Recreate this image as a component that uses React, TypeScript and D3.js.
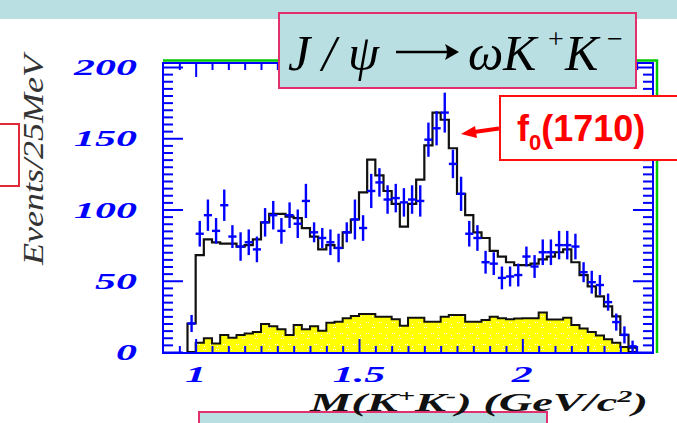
import React, { useEffect, useRef } from 'react';
import * as d3 from 'd3';

// M(K+K-) bin centres, GeV/c^2 (25 MeV bins)
const binWidth = 0.025;
const binCenters = [
  0.9875, 1.0125, 1.0375, 1.0625, 1.0875, 1.1125, 1.1375, 1.1625, 1.1875, 1.2125,
  1.2375, 1.2625, 1.2875, 1.3125, 1.3375, 1.3625, 1.3875, 1.4125, 1.4375, 1.4625,
  1.4875, 1.5125, 1.5375, 1.5625, 1.5875, 1.6125, 1.6375, 1.6625, 1.6875, 1.7125,
  1.7375, 1.7625, 1.7875, 1.8125, 1.8375, 1.8625, 1.8875, 1.9125, 1.9375, 1.9625,
  1.9875, 2.0125, 2.0375, 2.0625, 2.0875, 2.1125, 2.1375, 2.1625, 2.1875, 2.2125,
  2.2375, 2.2625, 2.2875, 2.3125, 2.3375,
];

// data points (events / 25 MeV) and their errors
const dataCounts = [
  20, 83, 96, 85, 103, 81, 74, 77, 72, 91,
  96, 85, 96, 90, 106, 84, 80, 77, 73, 84,
  93, 87, 113, 119, 107, 108, 105, 107, 106, 149,
  157, 168, 132, 111, 83, 80, 63, 62, 52, 53,
  54, 67, 60, 70, 70, 75, 75, 74, 56, 49,
  47, 35, 21, 12, 4,
];
const dataErrors = [
  6, 9, 11, 9, 11, 8, 10, 9, 9, 10,
  10, 9, 9, 10, 12, 7, 7, 9, 10, 7,
  14, 9, 12, 10, 10, 10, 10, 10, 11, 12,
  12, 14, 10, 12, 9, 9, 8, 8, 8, 7,
  8, 7, 8, 9, 9, 10, 10, 9, 7, 8,
  7, 6, 6, 6, 4,
];

// fit result (black histogram)
const fitCounts = [
  20, 68, 79, 77, 76, 76, 74, 75, 79, 91,
  97, 97, 95, 94, 87, 81, 72, 75, 73, 84,
  93, 112, 135, 124, 113, 104, 88, 104, 121, 145,
  168, 163, 143, 111, 96, 84, 80, 71, 67, 63,
  61, 61, 62, 65, 67, 70, 72, 63, 54, 46,
  39, 32, 25, 12, 3,
];

// background (yellow histogram)
const bkgCounts = [
  0, 6.5, 9.6, 6, 12, 10, 12, 13, 14, 19.6,
  18, 16, 12, 19, 16, 18, 15, 20.6, 21.3, 23.6,
  25.3, 26.7, 26.7, 24.8, 24.8, 22.9, 18.5, 24, 24, 21.3,
  21.3, 24.8, 26, 26, 21.3, 21.3, 22.5, 24.8, 23.6, 23,
  23.5, 23.6, 23.6, 27.8, 22.8, 22.8, 24, 19, 16.5, 14,
  11.5, 9, 6.5, 3.5, 0,
];

const xMajor = [1, 1.5, 2];
const xLabels = ['1', '1.5', '2'];
const yMajor = [0, 50, 100, 150, 200];
const yLabels = ['0', '50', '100', '150', '200'];

const W = 677;
const H = 423;
const frame = { left: 163, right: 653, top: 63, bottom: 353 };
const blue = '#0000ff';
const cyan = '#b9dfe2';
const pink = '#e2306e';
const serif = '"Liberation Serif", "DejaVu Serif", serif';
const sans = '"Liberation Sans", Arial, sans-serif';

const x = d3.scaleLinear().domain([0.9, 2.4]).range([frame.left, frame.right]);
const y = d3.scaleLinear().domain([0, 200]).range([352, 67]);

const Chart = () => {
  const gRef = useRef<SVGGElement>(null);

  useEffect(() => {
    const g = d3.select(gRef.current);
    g.selectAll('*').remove();

    const defs = g.append('defs');
    const pat = defs.append('pattern')
      .attr('id', 'dots')
      .attr('width', 13)
      .attr('height', 11)
      .attr('patternUnits', 'userSpaceOnUse');
    [[2, 3], [4, 3], [8, 8], [10, 8], [9, 5]].forEach(([cx, cy]) => {
      pat.append('rect').attr('x', cx).attr('y', cy).attr('width', 1).attr('height', 1).attr('fill', '#ffffff');
    });

    // step outline of a histogram
    const stepPoints = (vals: number[]) => {
      const pts: [number, number][] = [[binCenters[0] - binWidth / 2, 0]];
      vals.forEach((v, i) => {
        pts.push([binCenters[i] - binWidth / 2, v]);
        pts.push([binCenters[i] + binWidth / 2, v]);
      });
      pts.push([binCenters[binCenters.length - 1] + binWidth / 2, 0]);
      return pts;
    };
    const line = d3.line<[number, number]>()
      .x(d => x(d[0]))
      .y(d => y(d[1]));

    const bkgPath = line(stepPoints(bkgCounts));
    g.append('path').attr('d', bkgPath).attr('fill', '#ffff00');
    g.append('path').attr('d', bkgPath).attr('fill', 'url(#dots)');
    g.append('path').attr('d', bkgPath)
      .attr('fill', 'none').attr('stroke', '#111').attr('stroke-width', 2);

    // fit
    g.append('path').attr('d', line(stepPoints(fitCounts)))
      .attr('fill', 'none').attr('stroke', '#111').attr('stroke-width', 2.2)
      .attr('stroke-linejoin', 'miter');

    // data crosses
    const pts = g.append('g').attr('stroke', blue).attr('stroke-width', 2.4);
    pts.selectAll('.h').data(binCenters).enter().append('line')
      .attr('x1', d => x(d - binWidth / 2))
      .attr('x2', d => x(d + binWidth / 2))
      .attr('y1', (_, i) => y(dataCounts[i]))
      .attr('y2', (_, i) => y(dataCounts[i]));
    pts.selectAll('.v').data(binCenters).enter().append('line')
      .attr('x1', d => x(d))
      .attr('x2', d => x(d))
      .attr('y1', (_, i) => y(dataCounts[i] - dataErrors[i]))
      .attr('y2', (_, i) => y(dataCounts[i] + dataErrors[i]));

    // frame
    g.append('polyline')
      .attr('points', `${frame.left},60.5 ${frame.right + 4},60.5 ${frame.right + 4},${frame.bottom}`)
      .attr('fill', 'none').attr('stroke', '#00cc00').attr('stroke-width', 2.5);
    g.append('rect')
      .attr('x', frame.left).attr('y', frame.top)
      .attr('width', frame.right - frame.left).attr('height', frame.bottom - frame.top)
      .attr('fill', 'none').attr('stroke', blue).attr('stroke-width', 2);

    // ticks
    const yMinor = d3.range(5, 200, 5).filter(v => v % 50 !== 0);
    const xMinor = d3.range(19, 48).filter(k => k % 10 !== 0).map(k => k * 0.05);
    const tickAxis = (axis: d3.Axis<d3.NumberValue>, tx: number, ty: number) => {
      const a = g.append('g').attr('transform', `translate(${tx},${ty})`).call(axis.tickFormat(() => ''));
      a.select('.domain').remove();
      a.selectAll('line').attr('stroke', blue).attr('stroke-width', 2);
    };
    tickAxis(d3.axisRight(y).tickValues(yMinor).tickSize(10), frame.left, 0);
    tickAxis(d3.axisRight(y).tickValues(yMajor).tickSize(20), frame.left, 0);
    tickAxis(d3.axisLeft(y).tickValues(yMinor).tickSize(10), frame.right, 0);
    tickAxis(d3.axisLeft(y).tickValues(yMajor).tickSize(20), frame.right, 0);
    tickAxis(d3.axisBottom(x).tickValues(xMinor).tickSize(7), 0, frame.top);
    tickAxis(d3.axisBottom(x).tickValues(xMajor).tickSize(14), 0, frame.top);
    tickAxis(d3.axisTop(x).tickValues(xMinor).tickSize(7), 0, frame.bottom);
    tickAxis(d3.axisTop(x).tickValues(xMajor).tickSize(14), 0, frame.bottom);

    // tick labels (wide bold italic)
    yMajor.forEach((v, i) => {
      g.append('text')
        .attr('transform', `translate(137,${y(v) + 8}) scale(1.75,1)`)
        .attr('text-anchor', 'end')
        .attr('font-family', serif).attr('font-style', 'italic').attr('font-weight', 'bold')
        .attr('font-size', 24).attr('fill', blue)
        .text(yLabels[i]);
    });
    xMajor.forEach((v, i) => {
      g.append('text')
        .attr('transform', `translate(${x(v)},382) scale(1.75,1)`)
        .attr('text-anchor', 'middle')
        .attr('font-family', serif).attr('font-style', 'italic').attr('font-weight', 'bold')
        .attr('font-size', 24).attr('fill', blue)
        .text(xLabels[i]);
    });
  }, []);

  return <g ref={gRef} />;
};

const App = () => (
  <svg width={W} height={H} style={{ position: 'absolute', left: 0, top: 0, background: '#fff' }}>
    <rect x={0} y={0} width={W} height={19} fill={cyan} />
    <Chart />

    {/* partial boxes at the edges */}
    <rect x={-5} y={124} width={24} height={62} fill="#fff" stroke="#e02a3a" strokeWidth={2} />
    <rect x={199} y={412} width={348} height={30} fill={cyan} stroke={pink} strokeWidth={2} />

    {/* axis titles */}
    <text transform="translate(43,160) rotate(-90)" textAnchor="middle" fontFamily={serif}
      fontStyle="italic" fontSize={30} fill="#333" textLength={210} lengthAdjust="spacingAndGlyphs">
      Events/25MeV
    </text>
    <text x={648} y={411} textAnchor="end" fontFamily={serif} fontStyle="italic" fontWeight="bold"
      fontSize={26} fill="#111" textLength={338} lengthAdjust="spacingAndGlyphs">
      M(K<tspan dy={-9} fontSize={17}>+</tspan><tspan dy={9}>K</tspan>
      <tspan dy={-9} fontSize={17}>-</tspan><tspan dy={9}>)  (GeV/c</tspan>
      <tspan dy={-9} fontSize={17}>2</tspan><tspan dy={9}>)</tspan>
    </text>

    {/* title box */}
    <rect x={279} y={13} width={357} height={75} fill={cyan} stroke={pink} strokeWidth={2} />
    <g fontFamily={serif} fontStyle="italic" fontSize={50} fill="#000">
      <text x={288} y={70}>J</text>
      <text x={322} y={70}>/</text>
      <text x={348} y={70}>ψ</text>
      <text x={468} y={70}>ω</text>
      <text x={503} y={70}>K</text>
      <text x={548} y={48} fontStyle="normal" fontSize={28}>+</text>
      <text x={565} y={70}>K</text>
      <text x={607} y={48} fontStyle="normal" fontSize={28}>−</text>
    </g>
    {/* reaction arrow */}
    <line x1={396} y1={52} x2={452} y2={52} stroke="#000" strokeWidth={2.6} />
    <path d="M459,52 L445,44 Q449,52 445,60 Z" fill="#000" />

    {/* f0(1710) label */}
    <rect x={500} y={96} width={190} height={64} fill="#fff" stroke="#ff1010" strokeWidth={2} />
    <text x={517} y={141} fontFamily={sans} fontWeight="bold" fontSize={36} fill="#ff0000">
      f<tspan dy={9} fontSize={22}>0</tspan><tspan dy={-9}>(1710)</tspan>
    </text>
    <line x1={499} y1={128.5} x2={474} y2={132} stroke="#ff0000" strokeWidth={4} />
    <polygon points="461,134 475,126 477,138" fill="#ff0000" />
  </svg>
);

export default App;
